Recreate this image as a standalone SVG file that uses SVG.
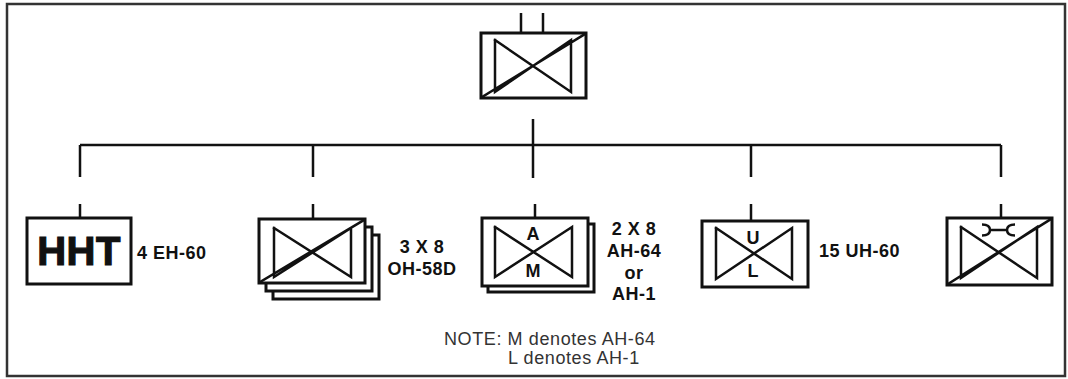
<svg xmlns="http://www.w3.org/2000/svg" width="1068" height="379" viewBox="0 0 1068 379">
<style>
.frame{fill:none;stroke:#333;stroke-width:2.5}
.box{fill:#fff;stroke:#111;stroke-width:3}
.sym{fill:none;stroke:#111;stroke-width:2.5;stroke-linecap:square}
.conn{fill:none;stroke:#111;stroke-width:2.5}
.lbl{font-family:"Liberation Sans",Arial,sans-serif;font-weight:bold;font-size:18px;fill:#111;letter-spacing:0.5px}
.ltr{font-family:"Liberation Sans",Arial,sans-serif;font-weight:bold;font-size:18px;fill:#111;text-anchor:middle}
.note{font-family:"Liberation Sans",Arial,sans-serif;font-size:18px;fill:#333;letter-spacing:0.6px}
</style>
<rect x="0" y="0" width="1068" height="379" fill="#fff"/>
<rect class="frame" x="7" y="4" width="1058" height="372"/>

<g id="connectors">
<path class="conn" d="M533,119 V178 M80,145 H1001 M80,145 V177 M313,145 V177 M751,145 V177 M1001,145 V177"/>
<path class="conn" d="M80,204 V218 M313,204 V219 M535,204 V218 M751,204 V221 M1001,204 V218 M521,13 V33 M543,13 V33"/>
</g>

<g id="hq">
<rect class="box" x="481" y="33" width="105" height="65"/>
<path class="sym" d="M495,40 V92 L571,40 V92 L495,40 M482,97 L585,34"/>
</g>

<g id="hht">
<rect class="box" x="27" y="218" width="104" height="66"/>
<text x="79" y="265" font-family="Liberation Sans,Arial,sans-serif" font-weight="bold" font-size="40" text-anchor="middle" letter-spacing="0.5" fill="#111" stroke="#111" stroke-width="1.2">HHT</text>
<text class="lbl" x="137" y="259">4 EH-60</text>
</g>

<g id="oh58">
<rect class="box" x="273" y="235" width="106" height="64"/>
<rect class="box" x="266" y="227" width="106" height="64"/>
<rect class="box" x="259" y="219" width="106" height="64"/>
<path class="sym" d="M274,228 V277 L351,228 V277 L274,228 M260,282 L364,220"/>
<text class="lbl" x="422" y="253" text-anchor="middle">3 X 8</text>
<text class="lbl" x="422" y="275" text-anchor="middle">OH-58D</text>
</g>

<g id="ah64">
<rect class="box" x="488" y="224" width="106" height="68"/>
<rect class="box" x="482" y="218" width="106" height="68"/>
<path class="sym" d="M495,227 V277 L572,227 V277 L495,227"/>
<text class="ltr" x="533" y="240">A</text>
<text class="ltr" x="533" y="277">M</text>
<text class="lbl" x="634" y="235" text-anchor="middle">2 X 8</text>
<text class="lbl" x="634" y="257" text-anchor="middle">AH-64</text>
<text class="lbl" x="634" y="279" text-anchor="middle">or</text>
<text class="lbl" x="634" y="300" text-anchor="middle">AH-1</text>
</g>

<g id="uh60">
<rect class="box" x="702" y="221" width="106" height="66"/>
<path class="sym" d="M716,228 V279 L792,228 V279 L716,228"/>
<text class="ltr" x="753" y="244">U</text>
<text class="ltr" x="753" y="277">L</text>
<text class="lbl" x="819" y="257">15 UH-60</text>
</g>

<g id="maint">
<rect class="box" x="947" y="218" width="105" height="67"/>
<path class="sym" d="M961,227 V278 L1037,227 V278 L961,227 M948,284 L1051,219"/>
<path fill="none" stroke="#111" stroke-width="2.5" d="M982,224.5 Q990,224.5 990,230 Q990,235.5 982,235.5 M990,230 H1007 M1015,224.5 Q1007,224.5 1007,230 Q1007,235.5 1015,235.5"/>
</g>

<g id="note">
<text class="note" x="444" y="345">NOTE: M denotes AH-64</text>
<text class="note" x="508" y="364">L denotes AH-1</text>
</g>
</svg>
